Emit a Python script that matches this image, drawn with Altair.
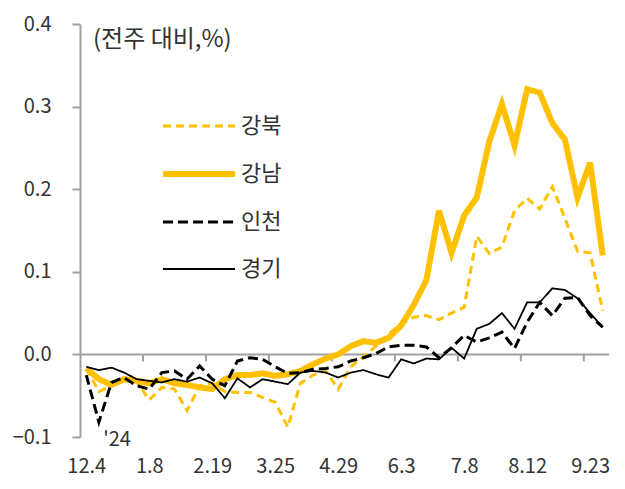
import altair as alt
import pandas as pd

dates = ["12.4", "12.11", "12.18", "12.25", "1.1", "1.8", "1.15", "1.22", "1.29", "2.5",
         "2.19", "2.26", "3.4", "3.11", "3.18", "3.25", "4.1", "4.8", "4.15", "4.22",
         "4.29", "5.6", "5.13", "5.20", "5.27", "6.3", "6.10", "6.17", "6.24", "7.1",
         "7.8", "7.15", "7.22", "7.29", "8.5", "8.12", "8.19", "8.26", "9.2", "9.9",
         "9.23", "9.30"]

gangbuk = [-0.017, -0.045, -0.038, -0.028, -0.033, -0.055, -0.040, -0.042, -0.068, -0.038,
           -0.035, -0.045, -0.046, -0.046, -0.052, -0.058, -0.088, -0.035, -0.025, -0.020,
           -0.042, -0.015, -0.003, 0.010, 0.025, 0.037, 0.045, 0.047, 0.042, 0.050,
           0.057, 0.143, 0.122, 0.130, 0.174, 0.189, 0.176, 0.203, 0.165, 0.125,
           0.123, 0.053]
gangnam = [-0.017, -0.030, -0.037, -0.030, -0.032, -0.035, -0.030, -0.035, -0.037, -0.040,
           -0.042, -0.030, -0.025, -0.025, -0.023, -0.026, -0.024, -0.020, -0.012, -0.005,
           0.000, 0.010, 0.016, 0.014, 0.020, 0.035, 0.060, 0.090, 0.174, 0.123,
           0.168, 0.190, 0.258, 0.303, 0.253, 0.321, 0.317, 0.280, 0.260, 0.190,
           0.232, 0.120]
incheon = [-0.025, -0.082, -0.034, -0.028, -0.038, -0.042, -0.022, -0.020, -0.030, -0.014,
           -0.030, -0.038, -0.008, -0.004, -0.006, -0.015, -0.023, -0.022, -0.018, -0.017,
           -0.015, -0.008, -0.004, 0.001, 0.009, 0.011, 0.011, 0.009, -0.004, 0.008,
           0.023, 0.015, 0.020, 0.027, 0.007, 0.039, 0.063, 0.047, 0.068, 0.069,
           0.047, 0.033]
gyeonggi = [-0.015, -0.019, -0.016, -0.022, -0.030, -0.032, -0.034, -0.030, -0.033, -0.028,
            -0.035, -0.053, -0.029, -0.040, -0.030, -0.033, -0.036, -0.022, -0.020, -0.022,
            -0.028, -0.022, -0.019, -0.024, -0.028, -0.006, -0.011, -0.005, -0.006, 0.008,
            -0.005, 0.031, 0.037, 0.050, 0.031, 0.063, 0.063, 0.080, 0.078, 0.068,
            0.050, 0.033]

series_names = ["강북", "강남", "인천", "경기"]
series_values = [gangbuk, gangnam, incheon, gyeonggi]
y_ticks = [-0.1, 0.0, 0.1, 0.2, 0.3, 0.4]
title_text = "(전주 대비,%)"
year_text = "'24"

rows = []
for name, vals in zip(series_names, series_values):
    for i, v in enumerate(vals):
        rows.append({"i": i, "date": dates[i], "series": name, "v": v})
df = pd.DataFrame(rows)

label_idx = list(range(0, len(dates), 5))
label_expr = "[" + ",".join("'%s'" % d for d in dates) + "][datum.value]"

FONT = "Noto Sans CJK KR"
GOLD = "#FFC000"
GRAY = "#A0A0A0"
TXT = "#333333"
W, H = 529, 413

xscale = alt.Scale(domain=[-0.5, len(dates) - 0.5], nice=False, zero=False)
yscale = alt.Scale(domain=[-0.1, 0.4], nice=False, zero=False)

leg = alt.Legend(title=None, orient="none", legendX=80, legendY=91,
                 symbolType="M-1,0H8", symbolSize=256, labelOffset=59,
                 labelFontSize=22, labelFont=FONT, labelColor=TXT,
                 rowPadding=25, padding=0)

x_axis = alt.Axis(values=label_idx, labelExpr=label_expr, domain=False,
                  ticks=False, grid=False, labelPadding=19, labelFontSize=20,
                  labelColor=TXT, labelFont=FONT, title=None)
y_axis = alt.Axis(values=y_ticks, format=".1f", grid=False, domainColor=GRAY,
                  domainWidth=2, tickColor=GRAY, tickWidth=2, tickSize=8,
                  labelPadding=21, labelFontSize=20, labelColor=TXT,
                  labelFont=FONT, title=None)

lines = alt.Chart(df).mark_line(strokeJoin="miter").encode(
    x=alt.X("i:Q", scale=xscale, axis=x_axis),
    y=alt.Y("v:Q", scale=yscale, axis=y_axis),
    color=alt.Color("series:N", scale=alt.Scale(domain=series_names,
                                                range=[GOLD, GOLD, "#000000", "#000000"]),
                    legend=leg),
    strokeDash=alt.StrokeDash("series:N",
                              scale=alt.Scale(domain=series_names,
                                              range=[[8, 5], [1, 0], [10, 5], [1, 0]]),
                              legend=leg),
    strokeWidth=alt.StrokeWidth("series:N",
                                scale=alt.Scale(type="ordinal", domain=series_names,
                                                range=[3, 6, 3, 1.8]),
                                legend=leg),
    detail="series:N",
)

zero = alt.Chart(pd.DataFrame({"z": [0.0]})).mark_rule(color=GRAY, strokeWidth=2).encode(
    y=alt.datum(0.0)
)

tick_df = pd.DataFrame({"b": [k - 0.5 for k in label_idx[1:]]})
ticks = alt.Chart(tick_df).mark_rule(color=GRAY, strokeWidth=2).encode(
    x=alt.X("b:Q", scale=xscale, axis=x_axis),
    y=alt.datum(0.0),
    y2=alt.datum(-0.0085),
)

title = alt.Chart(pd.DataFrame({"t": [title_text]})).mark_text(
    align="left", baseline="middle", fontSize=24, font=FONT, color=TXT
).encode(text="t:N", x=alt.value(13), y=alt.value(16))

year = alt.Chart(pd.DataFrame({"t": [year_text]})).mark_text(
    align="center", baseline="middle", fontSize=20, font=FONT, color=TXT
).encode(text="t:N", x=alt.value(37), y=alt.value(416))

chart = alt.layer(zero, ticks, lines, title, year).properties(
    width=W, height=H,
    padding={"left": 80, "top": 24, "right": 16, "bottom": 52},
    autosize=alt.AutoSizeParams(type="none"),
    background="white",
).configure_view(stroke=None)

chart.save("out.html", embed_options={"renderer": "svg", "actions": False})
